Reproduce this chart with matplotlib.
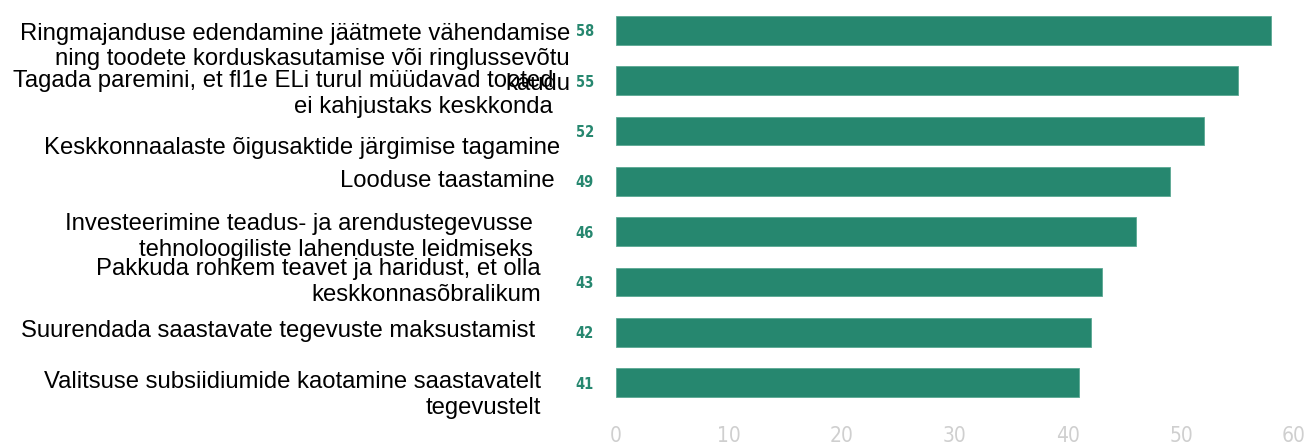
import matplotlib.pyplot as plt

# andmed
kategooriad = [
    "Ringmajanduse edendamine jäätmete vähendamise\nning toodete korduskasutamise või ringlussevõtu\nkaudu",
    "Tagada paremini, et fl1e ELi turul müüdavad tooted\nei kahjustaks keskkonda",
    "Keskkonnaalaste õigusaktide järgimise tagamine",
    "Looduse taastamine",
    "Investeerimine teadus- ja arendustegevusse\ntehnoloogiliste lahenduste leidmiseks",
    "Pakkuda rohkem teavet ja haridust, et olla\nkeskkonnasõbralikum",
    "Suurendada saastavate tegevuste maksustamist",
    "Valitsuse subsiidiumide kaotamine saastavatelt\ntegevustelt",
]
vaartused = [58, 55, 52, 49, 46, 43, 42, 41]
x_tickid = [0, 10, 20, 30, 40, 50, 60]

# siltide paigutus pikslites (parem serv, keskkoht)
sildi_koht = [(570, 59), (553, 94), (560, 148), (555, 181),
              (533, 237), (541, 282), (535, 331), (541, 395)]

W, H = 1307, 446
roheline = "#26876f"

fig = plt.figure(figsize=(W / 100, H / 100), dpi=100)
ax = fig.add_axes([616 / W, 1 - 408 / H, (1294 - 616) / W, (408 - 5) / H])

y = list(range(len(vaartused)))
ax.barh(y, vaartused, height=0.57, color=roheline, edgecolor="#5aa893", linewidth=0.6)
ax.set_xlim(0, 60)
ax.set_ylim(len(vaartused) - 0.5, -0.5)
ax.set_xticks(x_tickid)
ax.set_xticklabels([str(t) for t in x_tickid], fontfamily="DejaVu Sans",
                   fontstretch="condensed", fontweight="light",
                   fontsize=15, color="#cfcfcf")
ax.tick_params(axis="x", length=0, pad=13)
ax.set_yticks([])
for s in ax.spines.values():
    s.set_visible(False)

# väärtused ribade ees
for i, v in enumerate(vaartused):
    ax.text(-2.75, i + 0.03, str(v), ha="center", va="center", fontsize=10.5,
            fontweight="bold", color=roheline, fontfamily="DejaVu Sans",
            fontstretch="condensed", clip_on=False)

# kategooriate sildid
for tekst, (px, py) in zip(kategooriad, sildi_koht):
    fig.text(px / W, 1 - py / H, tekst, ha="right", va="center",
             multialignment="right", fontsize=17.2, color="black",
             fontfamily=["Liberation Sans", "DejaVu Sans"], linespacing=1.2)

fig.savefig("out.png", dpi=100)
